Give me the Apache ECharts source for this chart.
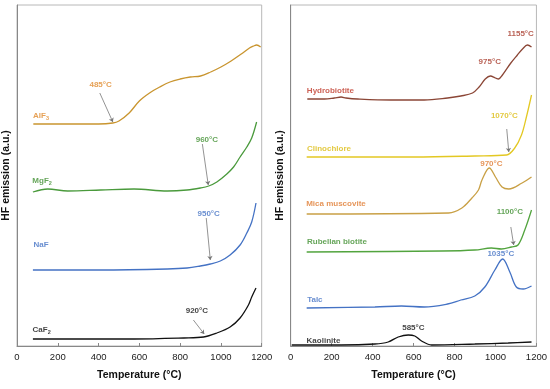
<!DOCTYPE html>
<html><head><meta charset="utf-8">
<script src="https://cdn.jsdelivr.net/npm/echarts@6/dist/echarts.min.js"></script>
<style>html,body{margin:0;padding:0;background:#fff}#c{width:550px;height:389px}</style>
</head><body><div id="c"></div>
<script>
// x tick labels
const xTicks = [0, 200, 400, 600, 800, 1000, 1200];
// Left panel: fluorides [temperature °C, signal a.u.]
const alf3 = [[80,222],[200,222],[300,222],[400,222],[470,223],[500,225],[550,233],[600,245],[650,253],[700,259],[750,264],[800,267],[850,269],[900,270],[950,274],[1000,279],[1050,285],[1100,292],[1140,298],[1160,300],[1175,301],[1195,299]];
const mgf2 = [[78,154],[151,157],[249,155],[411,156],[574,157],[737,155],[834,156],[899,158],[940,160],[980,164],[1029,172],[1062,179],[1094,189],[1127,199],[1151,208],[1175,224]];
const naf = [[78,76],[411,76],[737,77],[834,78],[899,80],[948,82],[997,85],[1045,91],[1094,101],[1127,113],[1151,124],[1172,143]];
const caf2 = [[78,7],[574,7],[818,8],[915,9],[980,13],[1045,19],[1094,28],[1135,41],[1151,49],[1172,58]];
// Right panel: minerals
const hydrobiotite = [[81,247],[165,247],[213,248],[246,249],[270,248],[327,247],[489,246],[652,246],[766,248],[831,250],[888,253],[920,259],[950,267],[975,270],[1000,268],[1015,267],[1034,271],[1075,283],[1107,291],[1132,297],[1156,301],[1176,299]];
const clinochlore = [[78,189],[600,189],[899,190],[1054,191],[1094,198],[1127,211],[1151,229],[1176,251]];
const micaMuscovite = [[78,132],[771,133],[836,138],[885,148],[917,156],[934,166],[970,178],[1000,169],[1032,159],[1065,157],[1130,163],[1176,169]];
const rubellanBiotite = [[78,94],[737,95],[899,96],[980,98],[1029,97],[1078,99],[1110,101],[1143,116],[1176,136]];
const talc = [[78,38],[411,39],[541,40],[652,39],[766,42],[831,46],[899,50],[948,59],[997,76],[1035,87],[1070,74],[1102,59],[1135,57],[1176,60]];
const kaolinite = [[5,1],[246,1],[411,2],[476,4],[525,9],[574,11],[606,10],[639,5],[688,1],[899,2],[1062,3],[1176,4]];
// Annotation texts [T, v, text, color]
const leftLabels = [[118,230,'{n|AlF}{s|3}','#e0892c'],[410,261,'485°C','#e0892c'],[123,165,'{n|MgF}{s|2}','#3f8f2f'],[931,206,'960°C','#3f8f2f'],[118,101,'NaF','#4472c4'],[940,132,'950°C','#4472c4'],[121,16,'{n|CaF}{s|2}','#111'],[882,35,'920°C','#111']];
const rightLabels = [[194,255,'Hydrobiotite','#c0392b'],[972,284,'975°C','#a83a2a'],[1123,312,'1155°C','#a83a2a'],[187,197,'Clinochlore','#dcbc10'],[1043,230,'1070°C','#dcbc10'],[221,142,'Mica muscovite','#e07a30'],[980,182,'970°C','#e07a30'],[226,104,'Rubellan biotite','#3f8f2f'],[1070,134,'1100°C','#3f8f2f'],[118,46,'Talc','#4472c4'],[1026,92,'1035°C','#4472c4'],[160,5,'Kaolinite','#111'],[599,18,'585°C','#111']];
// Arrows [[T1,v1],[T2,v2]]
const leftArrows = [[[406,253],[470,224]],[[909,202],[938,161]],[[928,128],[948,86]],[[865,26],[918,12]]];
const rightArrows = [[[1055,217],[1065,194]],[[1075,119],[1089,101]]];

const FONT = 'Liberation Sans, Arial, sans-serif';
const chart = echarts.init(document.getElementById('c'), null, {renderer:'canvas'});
function xAx(i){return {gridIndex:i,type:'value',min:0,max:1200,interval:200,
  name:'Temperature (°C)',nameLocation:'middle',nameGap:24,
  nameTextStyle:{fontFamily:FONT,fontWeight:'bold',fontSize:10.5,color:'#111'},
  axisLine:{lineStyle:{color:'#888',width:1}},axisTick:{show:true,inside:true,length:3,lineStyle:{color:'#888'}},
  axisLabel:{fontFamily:FONT,fontSize:9.5,color:'#222',margin:6,
    formatter:v=>xTicks.includes(v)?String(v):''},splitLine:{show:false}};}
function yAx(i){return {gridIndex:i,type:'value',min:0,max:341,
  name:'HF emission (a.u.)',nameLocation:'middle',nameGap:5,nameRotate:90,
  nameTextStyle:{fontFamily:FONT,fontWeight:'bold',fontSize:10.5,color:'#111'},
  axisLine:{show:true,lineStyle:{color:'#888'}},axisTick:{show:false},axisLabel:{show:false},splitLine:{show:false}};}
function line(i,data,color,w){return {type:'line',xAxisIndex:i,yAxisIndex:i,data:data,smooth:0.35,symbol:'none',
  lineStyle:{color:color,width:w||1.3},z:3};}
function labels(i,arr){return {type:'scatter',xAxisIndex:i,yAxisIndex:i,symbolSize:0,silent:true,z:5,
  data:arr.map(a=>({value:[a[0],a[1]],label:{show:true,position:'inside',formatter:a[2],color:a[3],
    fontFamily:FONT,fontWeight:'bold',fontSize:8,
    rich:{n:{fontFamily:FONT,fontWeight:'bold',fontSize:8,color:a[3]},s:{fontFamily:FONT,fontWeight:'bold',fontSize:5.5,color:a[3],padding:[4,0,0,0]}}}}))};}
function arrows(i,arr){return {type:'lines',coordinateSystem:'cartesian2d',xAxisIndex:i,yAxisIndex:i,silent:true,z:4,
  symbol:['none','arrow'],symbolSize:4,lineStyle:{color:'#777',width:0.8,opacity:1},
  data:arr.map(a=>({coords:a}))};}
chart.setOption({
  animation:false,backgroundColor:'#fff',
  grid:[{left:15.7,right:288.3,top:5,bottom:43,show:true,borderColor:'#b8b8b8',borderWidth:1},
        {left:290.7,right:13.3,top:5,bottom:43,show:true,borderColor:'#b8b8b8',borderWidth:1}],
  xAxis:[xAx(0),xAx(1)],
  yAxis:[yAx(0),yAx(1)],
  series:[
    line(0,alf3,'#c9952f'),line(0,mgf2,'#4a9a3c'),line(0,naf,'#4472c4'),line(0,caf2,'#111'),
    line(1,hydrobiotite,'#8b4636'),line(1,clinochlore,'#e3c823'),line(1,micaMuscovite,'#c9a045'),
    line(1,rubellanBiotite,'#52a43e'),line(1,talc,'#4472c4'),line(1,kaolinite,'#111'),
    labels(0,leftLabels),labels(1,rightLabels),arrows(0,leftArrows),arrows(1,rightArrows)
  ]
});
</script></body></html>
